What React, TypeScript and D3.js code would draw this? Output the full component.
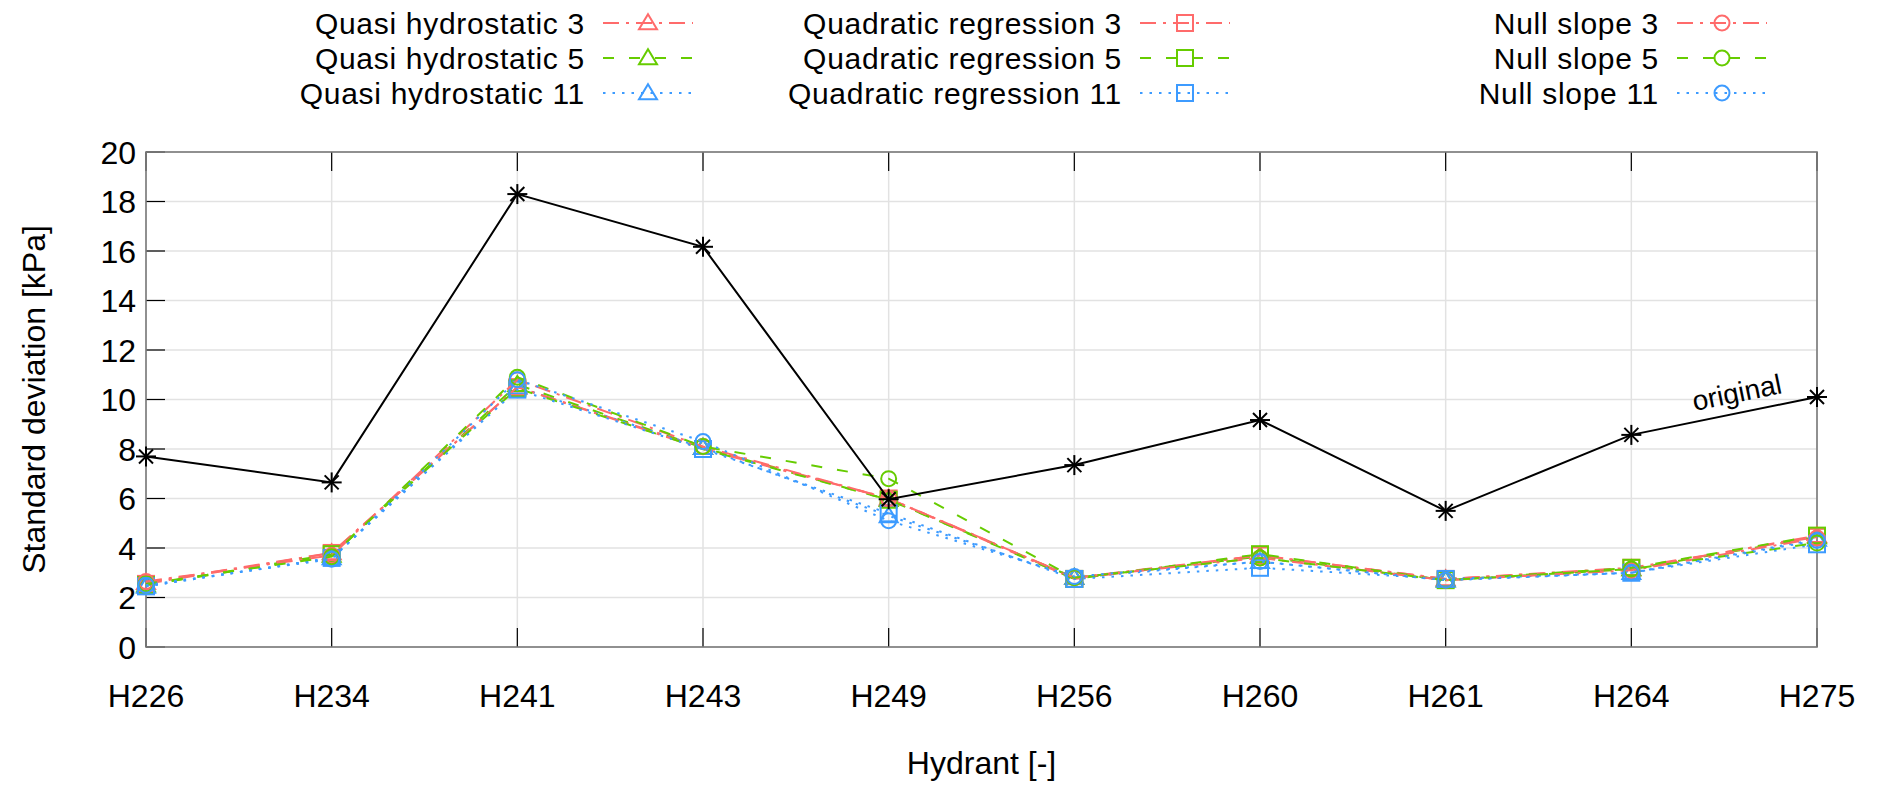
import React, { useEffect } from "react";
import * as d3 from "d3";

const hydrants = ["H226", "H234", "H241", "H243", "H249", "H256", "H260", "H261", "H264", "H275"];
const yTicks = [0, 2, 4, 6, 8, 10, 12, 14, 16, 18, 20];

const original = [7.7, 6.65, 18.3, 16.17, 5.97, 7.35, 9.17, 5.5, 8.57, 10.1];
const quasi3 = [2.6, 3.8, 10.5, 8.05, 6.0, 2.8, 3.7, 2.75, 3.15, 4.5];
const quasi5 = [2.5, 3.7, 10.6, 8.05, 5.95, 2.8, 3.65, 2.7, 3.15, 4.45];
const quasi11 = [2.45, 3.6, 10.5, 8.05, 5.3, 2.8, 3.45, 2.7, 3.0, 4.35];
const quad3 = [2.55, 3.8, 10.5, 8.0, 6.0, 2.75, 3.7, 2.75, 3.2, 4.45];
const quad5 = [2.5, 3.75, 10.45, 8.0, 5.95, 2.75, 3.75, 2.7, 3.2, 4.5];
const quad11 = [2.45, 3.6, 10.4, 8.0, 5.4, 2.75, 3.2, 2.75, 3.0, 4.15];
const null3 = [2.65, 3.7, 10.8, 8.1, 6.0, 2.8, 3.6, 2.7, 3.1, 4.4];
const null5 = [2.55, 3.65, 10.9, 8.1, 6.8, 2.8, 3.6, 2.7, 3.15, 4.2];
const null11 = [2.5, 3.55, 10.8, 8.3, 5.1, 2.85, 3.45, 2.7, 3.0, 4.3];

const RED = "#ff6b6b";
const GREEN = "#66cc00";
const BLUE = "#3d9bff";
const DASH3 = "16,7,3,7";
const DASH5 = "11,15";
const DASH11 = "2.5,7";

const seriesDefs = [
  { name: "Quasi hydrostatic 3", values: quasi3, color: RED, dash: DASH3, marker: "tri", col: 0, row: 0 },
  { name: "Quasi hydrostatic 5", values: quasi5, color: GREEN, dash: DASH5, marker: "tri", col: 0, row: 1 },
  { name: "Quasi hydrostatic 11", values: quasi11, color: BLUE, dash: DASH11, marker: "tri", col: 0, row: 2 },
  { name: "Quadratic regression 3", values: quad3, color: RED, dash: DASH3, marker: "sq", col: 1, row: 0 },
  { name: "Quadratic regression 5", values: quad5, color: GREEN, dash: DASH5, marker: "sq", col: 1, row: 1 },
  { name: "Quadratic regression 11", values: quad11, color: BLUE, dash: DASH11, marker: "sq", col: 1, row: 2 },
  { name: "Null slope 3", values: null3, color: RED, dash: DASH3, marker: "circ", col: 2, row: 0 },
  { name: "Null slope 5", values: null5, color: GREEN, dash: DASH5, marker: "circ", col: 2, row: 1 },
  { name: "Null slope 11", values: null11, color: BLUE, dash: DASH11, marker: "circ", col: 2, row: 2 },
];

const W = 1878;
const H = 788;
const PL = 146, PR = 1817, PT = 152, PB = 647;
const FONT = "'Liberation Sans', Arial, Helvetica, sans-serif";

function Marker({ type, x, y, color }: { type: string; x: number; y: number; color: string }) {
  const sw = 2;
  if (type === "tri") {
    const pts = `${x},${y - 8.7} ${x + 9},${y + 6.3} ${x - 9},${y + 6.3}`;
    return <polygon points={pts} fill="none" stroke={color} strokeWidth={sw} />;
  }
  if (type === "sq") {
    return <rect x={x - 8} y={y - 8} width={16} height={16} fill="none" stroke={color} strokeWidth={sw} />;
  }
  if (type === "circ") {
    return <circle cx={x} cy={y} r={7.5} fill="none" stroke={color} strokeWidth={sw} />;
  }
  const s = 10;
  const d = 7;
  return (
    <g stroke={color} strokeWidth={2}>
      <line x1={x - s} y1={y} x2={x + s} y2={y} />
      <line x1={x} y1={y - s} x2={x} y2={y + s} />
      <line x1={x - d} y1={y - d} x2={x + d} y2={y + d} />
      <line x1={x - d} y1={y + d} x2={x + d} y2={y - d} />
    </g>
  );
}

export default function App() {
  useEffect(() => {
    document.body.style.margin = "0";
  }, []);

  const x = d3.scalePoint<string>().domain(hydrants).range([PL, PR]);
  const y = d3.scaleLinear().domain([0, 20]).range([PB, PT]);
  const line = d3
    .line<number>()
    .x((_, i) => x(hydrants[i]) as number)
    .y((v) => y(v));

  const legendRight = [585, 1122, 1659];
  const legendRowY = [23, 58, 93];

  const x264 = x("H264") as number;
  const x275 = x("H275") as number;
  const ang = (Math.atan2(y(original[9]) - y(original[8]), x275 - x264) * 180) / Math.PI;

  return (
    <svg width={W} height={H} viewBox={`0 0 ${W} ${H}`} style={{ display: "block", background: "#fff" }} fontFamily={FONT}>
      <style>{`body{margin:0}`}</style>
      <rect x={0} y={0} width={W} height={H} fill="#fff" />
      {/* grid */}
      <g stroke="#e2e2e2" strokeWidth={1.5}>
        {yTicks.map((t) => (
          <line key={"gy" + t} x1={PL} x2={PR} y1={y(t)} y2={y(t)} />
        ))}
        {hydrants.map((h) => (
          <line key={"gx" + h} x1={x(h)} x2={x(h)} y1={PT} y2={PB} />
        ))}
      </g>
      {/* ticks */}
      <g stroke="#000" strokeWidth={1.2}>
        {yTicks.map((t) => (
          <line key={"ty" + t} x1={PL} x2={PL + 19} y1={y(t)} y2={y(t)} />
        ))}
        {hydrants.map((h) => (
          <g key={"tx" + h}>
            <line x1={x(h)} x2={x(h)} y1={PB} y2={PB - 19} />
            <line x1={x(h)} x2={x(h)} y1={PT} y2={PT + 19} />
          </g>
        ))}
      </g>
      {/* border */}
      <rect x={PL} y={PT} width={PR - PL} height={PB - PT} fill="none" stroke="#7a7a7a" strokeWidth={1.6} />
      {/* tick labels */}
      <g fontSize={32} fill="#000">
        {yTicks.map((t) => (
          <text key={"ly" + t} x={136} y={y(t) + 11.5} textAnchor="end">
            {t}
          </text>
        ))}
        {hydrants.map((h) => (
          <text key={"lx" + h} x={x(h)} y={707} textAnchor="middle">
            {h}
          </text>
        ))}
        <text x={(PL + PR) / 2} y={774} textAnchor="middle">
          Hydrant [-]
        </text>
        <text transform={`translate(45,${(PT + PB) / 2}) rotate(-90)`} textAnchor="middle">
          Standard deviation [kPa]
        </text>
      </g>
      {/* series */}
      {seriesDefs.map((s) => (
        <g key={s.name}>
          <path d={line(s.values) || ""} fill="none" stroke={s.color} strokeWidth={2} strokeDasharray={s.dash} />
          {s.values.map((v, i) => (
            <Marker key={i} type={s.marker} x={x(hydrants[i]) as number} y={y(v)} color={s.color} />
          ))}
        </g>
      ))}
      <g>
        <path d={line(original) || ""} fill="none" stroke="#000" strokeWidth={2} />
        {original.map((v, i) => (
          <Marker key={i} type="star" x={x(hydrants[i]) as number} y={y(v)} color="#000" />
        ))}
        <text
          transform={`translate(1783,393) rotate(${ang})`}
          textAnchor="end"
          fontSize={28}
          fill="#000"
        >
          original
        </text>
      </g>
      {/* legend */}
      {seriesDefs.map((s) => {
        const rx = legendRight[s.col];
        const ly = legendRowY[s.row];
        const x1 = rx + 18;
        const x2 = rx + 108;
        return (
          <g key={"lg" + s.name}>
            <text x={rx} y={ly + 11} textAnchor="end" fontSize={30} letterSpacing={0.7} fill="#000">
              {s.name}
            </text>
            <line x1={x1} x2={x2} y1={ly} y2={ly} stroke={s.color} strokeWidth={2} strokeDasharray={s.dash} />
            <Marker type={s.marker} x={(x1 + x2) / 2} y={ly} color={s.color} />
          </g>
        );
      })}
    </svg>
  );
}
